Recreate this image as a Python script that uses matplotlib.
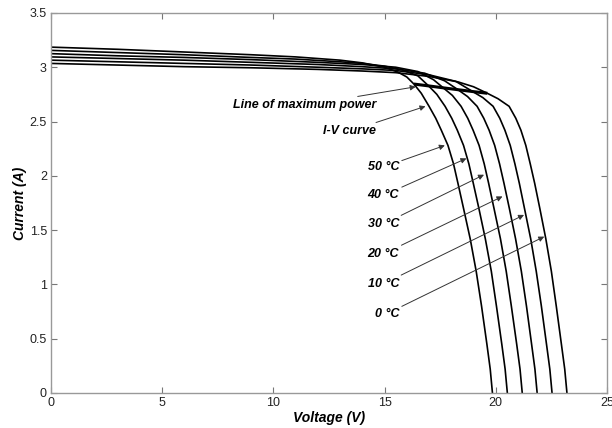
import matplotlib
matplotlib.use('Agg')
import matplotlib.pyplot as plt

# Temperatures of the curves
temps = [50, 40, 30, 20, 10, 0]

# I-V curves (voltage V, current A)
v_50 = [0, 3, 6, 9, 11, 13, 14, 15, 15.6, 16.0, 16.32, 16.65, 17.0, 17.3, 17.55, 17.85, 18.1, 18.3, 18.55, 18.85, 19.12, 19.36, 19.6, 19.75, 19.85]
i_50 = [3.185, 3.165, 3.14, 3.115, 3.095, 3.065, 3.04, 3.0, 2.955, 2.91, 2.845, 2.76, 2.64, 2.53, 2.42, 2.28, 2.11, 1.93, 1.70, 1.42, 1.12, 0.80, 0.45, 0.22, 0.0]

v_40 = [0, 3, 6, 9, 11, 13, 14, 15, 15.8, 16.5, 16.98, 17.35, 17.72, 18.02, 18.27, 18.55, 18.79, 18.99, 19.24, 19.53, 19.80, 20.03, 20.27, 20.42, 20.52]
i_40 = [3.155, 3.135, 3.115, 3.09, 3.075, 3.05, 3.035, 3.01, 2.975, 2.92, 2.828, 2.75, 2.64, 2.53, 2.42, 2.28, 2.11, 1.93, 1.70, 1.42, 1.12, 0.80, 0.45, 0.22, 0.0]

v_30 = [0, 3, 6, 9, 12, 14, 15.5, 16.5, 17.2, 17.64, 18.05, 18.44, 18.74, 18.98, 19.25, 19.48, 19.68, 19.92, 20.21, 20.47, 20.70, 20.94, 21.09, 21.19]
i_30 = [3.125, 3.105, 3.09, 3.07, 3.045, 3.025, 3.0, 2.96, 2.885, 2.81, 2.74, 2.64, 2.53, 2.42, 2.28, 2.11, 1.93, 1.70, 1.42, 1.12, 0.80, 0.45, 0.22, 0.0]

v_20 = [0, 3, 6, 9, 12, 14, 15.5, 16.8, 17.7, 18.3, 18.73, 19.16, 19.46, 19.70, 19.95, 20.17, 20.37, 20.61, 20.89, 21.15, 21.38, 21.61, 21.76, 21.86]
i_20 = [3.095, 3.08, 3.065, 3.045, 3.025, 3.005, 2.985, 2.945, 2.875, 2.793, 2.73, 2.64, 2.53, 2.42, 2.28, 2.11, 1.93, 1.70, 1.42, 1.12, 0.80, 0.45, 0.22, 0.0]

v_10 = [0, 3, 6, 9, 12, 14, 15.5, 17, 18.2, 18.96, 19.42, 19.88, 20.18, 20.41, 20.65, 20.86, 21.06, 21.29, 21.57, 21.82, 22.05, 22.28, 22.43, 22.53]
i_10 = [3.065, 3.05, 3.035, 3.02, 3.0, 2.985, 2.97, 2.93, 2.87, 2.776, 2.72, 2.64, 2.53, 2.42, 2.28, 2.11, 1.93, 1.70, 1.42, 1.12, 0.80, 0.45, 0.22, 0.0]

v_0 = [0, 3, 6, 9, 12, 14, 15.5, 17, 18.3, 19.0, 19.62, 20.1, 20.6, 20.9, 21.13, 21.35, 21.55, 21.75, 21.98, 22.25, 22.5, 22.72, 22.95, 23.1, 23.2]
i_0 = [3.035, 3.02, 3.005, 2.995, 2.98, 2.965, 2.95, 2.915, 2.865, 2.82, 2.76, 2.71, 2.64, 2.53, 2.42, 2.28, 2.11, 1.93, 1.70, 1.42, 1.12, 0.80, 0.45, 0.22, 0.0]

# Maximum power points
v_mpp = [16.32, 16.98, 17.64, 18.3, 18.96, 19.62]
i_mpp = [2.845, 2.828, 2.81, 2.793, 2.776, 2.76]

# Annotations: text, text position, arrow tip
labels = ['Line of maximum power', 'I-V curve', '50 °C', '40 °C', '30 °C', '20 °C', '10 °C', '0 °C']
label_xy = [(14.65, 2.65), (14.6, 2.41), (15.65, 2.08), (15.65, 1.82), (15.65, 1.555), (15.65, 1.28), (15.65, 1.005), (15.65, 0.73)]
tip_xy = [(16.4, 2.82), (16.84, 2.64), (17.71, 2.28), (18.68, 2.16), (19.47, 2.01), (20.3, 1.81), (21.27, 1.64), (22.18, 1.44)]

curves = [(v_50, i_50), (v_40, i_40), (v_30, i_30), (v_20, i_20), (v_10, i_10), (v_0, i_0)]

plt.rcParams['font.family'] = ['Liberation Sans', 'DejaVu Sans']

fig = plt.figure(figsize=(6.12, 4.28), dpi=100)
ax = fig.add_axes([0.0833, 0.0818, 0.9085, 0.888])

# Curves for each temperature
for (v, i), t in zip(curves, temps):
    ax.plot(v, i, color='black', lw=1.2)

# Line of maximum power
ax.plot(v_mpp, i_mpp, color='black', lw=2.2, solid_capstyle='butt')

for txt, (tx, ty), (ax_, ay) in zip(labels, label_xy, tip_xy):
    ax.annotate(txt, xy=(ax_, ay), xytext=(tx, ty),
                ha='right', va='center', fontsize=9, fontweight='bold', fontstyle='italic',
                arrowprops=dict(arrowstyle='-|>', color='#333333', lw=0.7,
                                mutation_scale=8, shrinkA=0, shrinkB=0))

ax.set_xlim(0, 25)
ax.set_ylim(0, 3.5)
ax.set_xticks([0, 5, 10, 15, 20, 25])
ax.set_yticks([0, 0.5, 1, 1.5, 2, 2.5, 3, 3.5])
ax.set_yticklabels(['0', '0.5', '1', '1.5', '2', '2.5', '3', '3.5'])
ax.tick_params(direction='in', top=True, right=True, length=4, width=0.8,
               labelsize=9, color='#777777', labelcolor='#222222', pad=3)
for s in ax.spines.values():
    s.set_color('#999999')
    s.set_linewidth(1.0)

ax.set_xlabel('Voltage (V)', fontsize=10, fontweight='bold', fontstyle='italic', labelpad=1)
ax.set_ylabel('Current (A)', fontsize=10, fontweight='bold', fontstyle='italic', labelpad=2)

fig.savefig('out.png', dpi=100)
